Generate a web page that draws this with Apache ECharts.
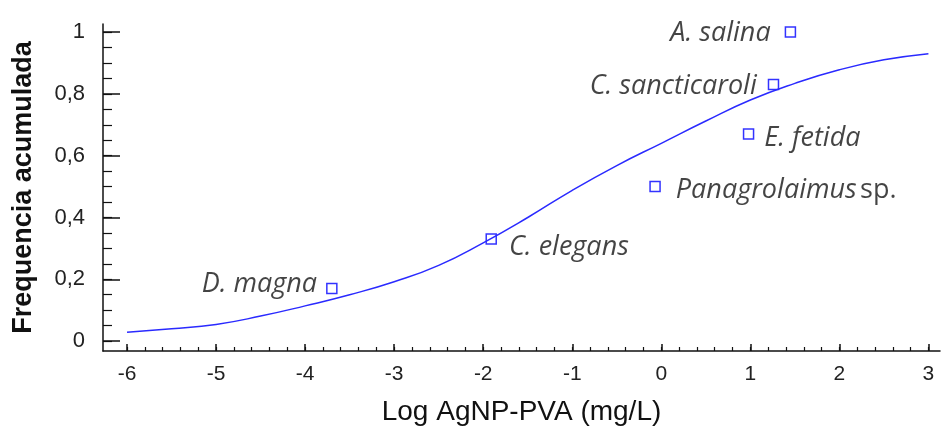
<!DOCTYPE html>
<html>
<head>
<meta charset="utf-8">
<script src="https://cdn.jsdelivr.net/npm/echarts@6.0.0/dist/echarts.min.js"></script>
<style>
  html, body { margin: 0; padding: 0; background: #fff; }
  #main { width: 942px; height: 427px; }
</style>
</head>
<body>
<div id="main"></div>
<script>
// species points
const speciesNames = ['D. magna', 'C. elegans', 'Panagrolaimus sp.', 'E. fetida', 'C. sancticaroli', 'A. salina'];
const speciesX = [-3.70, -1.91, -0.07, 0.98, 1.26, 1.45];
const speciesY = [0.17, 0.33, 0.50, 0.67, 0.83, 1.00];

// fitted curve
const curveX = [-6, -5.5, -5, -4.5, -4, -3.5, -3, -2.5, -2, -1.5, -1, -0.5, 0, 0.5, 1, 1.5, 2, 2.5, 3];
const curveY = [0.029, 0.040, 0.054, 0.081, 0.114, 0.150, 0.192, 0.245, 0.318, 0.400, 0.488, 0.568, 0.640, 0.712, 0.780, 0.834, 0.878, 0.910, 0.930];

// tick labels
const xTicks = [-6, -5, -4, -3, -2, -1, 0, 1, 2, 3];
const yTicks = [0, 0.2, 0.4, 0.6, 0.8, 1];
const xMinor = [];
for (let i = -30; i <= 15; i++) xMinor.push(i / 5);
const yMinor = [];
for (let i = 0; i <= 20; i++) yMinor.push(i / 20);

// where each label sits round its square
const labelPos = {
  'D. magna': { position: 'left', distance: 9, offset: [0, -4] },
  'C. elegans': { position: 'right', distance: 12, offset: [0, 8] },
  'Panagrolaimus sp.': { position: 'right', distance: 15, offset: [0, 4] },
  'E. fetida': { position: 'right', distance: 10, offset: [0, 4] },
  'C. sancticaroli': { position: 'left', distance: 11, offset: [0, 2] },
  'A. salina': { position: 'left', distance: 14, offset: [0, 1] }
};

const labelFont = '"Open Sans", "Noto Sans", sans-serif';
const tickFont = '"Liberation Sans", Arial, sans-serif';

const pointData = speciesNames.map((n, i) => {
  const p = labelPos[n];
  const txt = n === 'Panagrolaimus sp.' ? '{i|Panagrolaimus} {n|sp.}' : '{i|' + n + '}';
  return {
    value: [speciesX[i], speciesY[i]],
    name: n,
    label: { show: true, position: p.position, offset: p.offset, distance: p.distance, formatter: txt }
  };
});

const xMin = -6.27, xMax = 3.13, yMin = -0.032, yMax = 1.026;

const option = {
  animation: false,
  grid: { left: 103, right: 2, top: 24, bottom: 76, outerBoundsMode: 'none' },
  xAxis: [
    {
      type: 'value', min: xMin, max: xMax, position: 'bottom',
      name: 'Log AgNP-PVA (mg/L)', nameLocation: 'middle', nameGap: 47,
      nameTextStyle: { fontFamily: tickFont, fontSize: 28, color: '#111' },
      axisLine: { onZero: false, lineStyle: { color: '#111', width: 1.5 } },
      axisTick: { inside: true, length: 7, customValues: xTicks, lineStyle: { color: '#111', width: 1.5 } },
      axisLabel: { customValues: xTicks, margin: 13, fontFamily: tickFont, fontSize: 21, color: '#222' },
      splitLine: { show: false }
    },
    {
      type: 'value', min: xMin, max: xMax, position: 'bottom',
      axisLine: { show: false, onZero: false },
      axisTick: { inside: true, length: 4, customValues: xMinor, lineStyle: { color: '#111', width: 1.2 } },
      axisLabel: { show: false },
      splitLine: { show: false }
    }
  ],
  yAxis: [
    {
      type: 'value', min: yMin, max: yMax, position: 'left',
      name: 'Frequencia acumulada', nameLocation: 'middle', nameGap: 66,
      nameTextStyle: { fontFamily: tickFont, fontSize: 27, fontWeight: 'bold', color: '#111' },
      axisLine: { show: true, onZero: false, lineStyle: { color: '#111', width: 1.5 } },
      axisTick: { show: true, inside: true, length: 17, customValues: yTicks, lineStyle: { color: '#111', width: 1.5 } },
      axisLabel: {
        customValues: yTicks, margin: 18, fontFamily: tickFont, fontSize: 22, color: '#222',
        formatter: v => (v === 0 || v === 1) ? String(v) : v.toFixed(1).replace('.', ',')
      },
      splitLine: { show: false }
    },
    {
      type: 'value', min: yMin, max: yMax, position: 'left',
      axisLine: { show: false, onZero: false },
      axisTick: { show: true, inside: true, length: 9, customValues: yMinor, lineStyle: { color: '#111', width: 1.2 } },
      axisLabel: { show: false },
      splitLine: { show: false }
    }
  ],
  series: [
    {
      type: 'line',
      xAxisIndex: 0, yAxisIndex: 0,
      data: curveX.map((x, i) => [x, curveY[i]]),
      smooth: true,
      symbol: 'none',
      lineStyle: { color: '#2a2aff', width: 1.5 }
    },
    {
      type: 'scatter',
      xAxisIndex: 0, yAxisIndex: 0,
      data: pointData,
      symbol: 'rect',
      symbolSize: 10,
      itemStyle: { color: 'rgba(255,255,255,0)', borderColor: '#0000ff', borderWidth: 1.5 },
      label: {
        rich: {
          i: { fontFamily: labelFont, fontStyle: 'italic', fontSize: 27, color: '#151515' },
          n: { fontFamily: labelFont, fontSize: 27, color: '#151515' }
        }
      },
      emphasis: { disabled: true }
    }
  ]
};

echarts.init(document.getElementById('main')).setOption(option);
</script>
</body>
</html>
